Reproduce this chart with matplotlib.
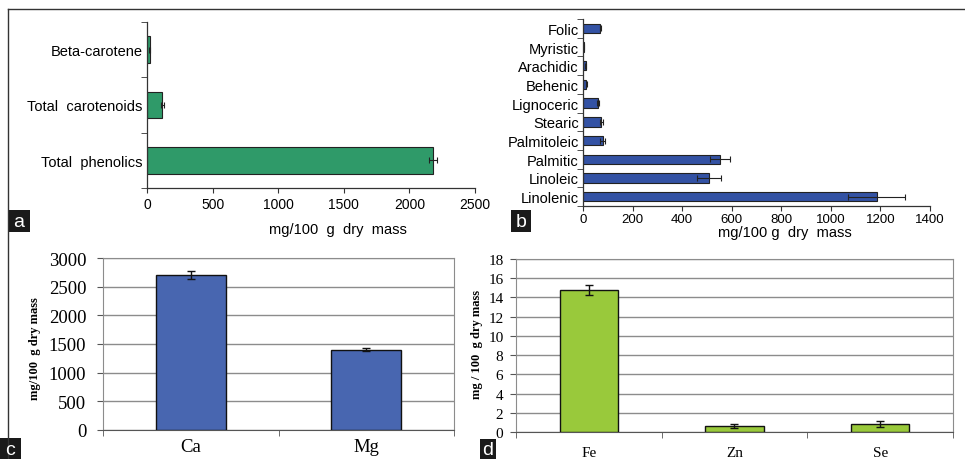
import matplotlib.pyplot as plt
from matplotlib.patches import Rectangle
from matplotlib.lines import Line2D

# panel a
a_labels = ["Total  phenolics", "Total  carotenoids", "Beta-carotene"]
a_vals = [2180, 118, 20]
a_err = [30, 10, 5]

# panel b
b_labels = ["Linolenic", "Linoleic", "Palmitic", "Palmitoleic", "Stearic",
            "Lignoceric", "Behenic", "Arachidic", "Myristic", "Folic"]
b_vals = [1185, 508, 553, 80, 73, 60, 14, 11, 4, 70]
b_err = [115, 48, 42, 10, 6, 5, 3, 3, 2, 3]

# panel c
c_labels = ["Ca", "Mg"]
c_vals = [2700, 1400]
c_err = [70, 30]

# panel d
d_labels = ["Fe", "Zn", "Se"]
d_vals = [14.8, 0.6, 0.8]
d_err = [0.5, 0.2, 0.3]

W, H = 965, 460
fig = plt.figure(figsize=(W / 100, H / 100), dpi=100)


def box(l, r, t, b):
    return [l / W, 1 - b / H, (r - l) / W, (b - t) / H]


sans = "Liberation Sans"
serif = "Liberation Serif"
dark = "#333333"


def hbar_panel(ax, labels, vals, err, color, xmax, step, height, lsize, tsize, tpad):
    y = list(range(len(labels)))
    ax.barh(y, vals, height=height, color=color, edgecolor="#222222", linewidth=0.8)
    ax.errorbar(vals, y, xerr=err, fmt="none", ecolor="#222222", elinewidth=0.8,
                capsize=2, capthick=0.8)
    ax.set_xlim(0, xmax)
    ax.set_ylim(-0.5, len(labels) - 0.5)
    ax.set_yticks(y)
    ax.set_yticklabels(labels, fontfamily=sans, fontsize=lsize)
    ax.set_yticks([i - 0.5 for i in range(len(labels) + 1)], minor=True)
    ax.tick_params(axis="y", which="major", length=0, pad=3)
    ax.tick_params(axis="y", which="minor", length=4, color=dark, direction="out")
    ax.set_xticks(range(0, xmax + 1, step))
    ax.tick_params(axis="x", length=3.5, color=dark, labelsize=tsize, pad=tpad)
    for t in ax.get_xticklabels():
        t.set_fontfamily(sans)
    for s in ["top", "right"]:
        ax.spines[s].set_visible(False)
    for s in ["left", "bottom"]:
        ax.spines[s].set_color(dark)
        ax.spines[s].set_linewidth(0.9)


ax_a = fig.add_axes(box(147, 475, 23, 189))
hbar_panel(ax_a, a_labels, a_vals, a_err, "#2f9a69", 2500, 500, 0.48, 10.5, 10, 3)
fig.text(338 / W, 1 - 230 / H, "mg/100  g  dry  mass", ha="center", va="center",
         fontfamily=sans, fontsize=10.5)

ax_b = fig.add_axes(box(583, 930, 20, 207))
hbar_panel(ax_b, b_labels, b_vals, b_err, "#3352a4", 1400, 200, 0.5, 10.5, 9.5, 1.2)
fig.text(785 / W, 1 - 233 / H, "mg/100 g  dry  mass", ha="center", va="center",
         fontfamily=sans, fontsize=10.5)


def vbar_panel(ax, labels, vals, err, color, ymax, step, tsize, ypad, xpad):
    x = list(range(len(labels)))
    ax.bar(x, vals, width=0.4, color=color, edgecolor="#111111", linewidth=1.0, zorder=3)
    ax.errorbar(x, vals, yerr=err, fmt="none", ecolor="#111111", elinewidth=1.0,
                capsize=3, capthick=1.0, zorder=4)
    ax.set_xlim(-0.5, len(labels) - 0.5)
    ax.set_ylim(0, ymax)
    ax.set_yticks(range(0, ymax + 1, step))
    ax.yaxis.grid(True, color="#8c8c8c", linewidth=1.0, zorder=0)
    ax.set_xticks(x)
    ax.set_xticklabels(labels, fontfamily=serif, fontsize=tsize)
    ax.set_xticks([i - 0.5 for i in range(len(labels) + 1)], minor=True)
    ax.tick_params(axis="x", which="major", length=0, pad=xpad)
    ax.tick_params(axis="x", which="minor", length=4, color="#555555")
    ax.tick_params(axis="y", length=4, color="#555555", labelsize=tsize, pad=ypad)
    for t in ax.get_yticklabels():
        t.set_fontfamily(serif)
    for s in ["top", "right", "left"]:
        ax.spines[s].set_color("#8c8c8c")
    ax.spines["bottom"].set_color("#555555")


ax_c = fig.add_axes(box(103, 454, 259, 431))
vbar_panel(ax_c, c_labels, c_vals, c_err, "#4866b0", 3000, 500, 13.5, 8, 6)
fig.text(35 / W, 1 - 349 / H, "mg/100  g dry mass", rotation=90, ha="center",
         va="center", fontfamily=serif, fontweight="bold", fontsize=9)

ax_d = fig.add_axes(box(516, 953, 260, 433))
vbar_panel(ax_d, d_labels, d_vals, d_err, "#99c93b", 18, 2, 11, 5, 10)
fig.text(477 / W, 1 - 345 / H, "mg / 100  g dry mass", rotation=90, ha="center",
         va="center", fontfamily=serif, fontweight="bold", fontsize=9)

# outer frame
fig.add_artist(Line2D([8 / W, 1], [1 - 10 / H, 1 - 10 / H], color=dark, linewidth=1.0))
fig.add_artist(Line2D([8 / W, 8 / W], [1 - 10 / H, 0], color=dark, linewidth=1.0))

# panel letters
for letter, l, t, w, h in [("a", 8, 211, 22, 22), ("b", 511, 211, 20, 22),
                           ("c", 0, 439, 21, 21), ("d", 480, 440, 16, 20)]:
    fig.add_artist(Rectangle((l / W, 1 - (t + h) / H), w / W, h / H,
                             facecolor="#1a1a1a", edgecolor="none"))
    fig.text((l + w / 2) / W, 1 - (t + h / 2 + 1) / H, letter, color="white",
             ha="center", va="center", fontfamily=sans, fontsize=14)

fig.savefig("out.png", dpi=100)
